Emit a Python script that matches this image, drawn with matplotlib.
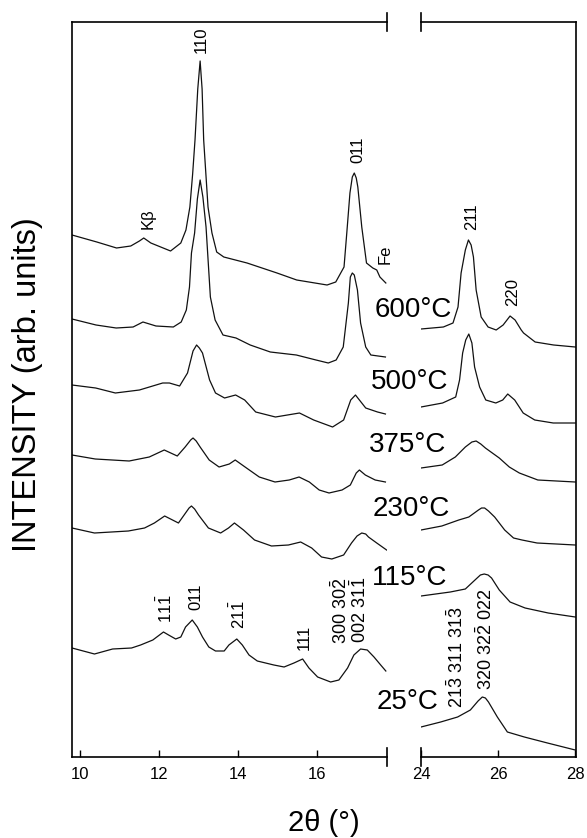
import matplotlib
matplotlib.use('Agg')
import matplotlib.pyplot as plt

plt.rcParams['font.family'] = ['Liberation Sans', 'DejaVu Sans']
plt.rcParams['mathtext.fontset'] = 'custom'
plt.rcParams['mathtext.rm'] = 'Liberation Sans'
plt.rcParams['mathtext.it'] = 'Liberation Sans:italic'
plt.rcParams['mathtext.bf'] = 'Liberation Sans:bold'

temperatures = ['600°C', '500°C', '375°C', '230°C', '115°C', '25°C']

# ---- low-angle segment (2theta 9.79-17.78), stacked intensities (arb. units)
tt_600_low = [9.79, 10.42, 10.92, 11.28, 11.50, 11.61, 11.79, 12.29, 12.55, 12.68, 12.78, 12.85, 12.91, 12.98,
              13.04, 13.09, 13.13, 13.24, 13.34, 13.46, 13.64, 14.23, 14.99, 15.49, 16.26, 16.48, 16.69,
              16.76, 16.84, 16.90, 16.95, 17.00, 17.04, 17.14, 17.26, 17.42, 17.52, 17.60, 17.75]
i_600_low = [524, 517, 511, 513, 518, 521, 516, 508, 516, 529, 552, 585, 619, 670,
             698, 670, 619, 552, 526, 507, 502, 496, 486, 479, 474, 477, 492,
             526, 566, 582, 586, 581, 572, 532, 496, 491, 489, 482, 476]

tt_500_low = [9.79, 10.40, 10.91, 11.34, 11.59, 11.92, 12.36, 12.56, 12.69, 12.77, 12.82, 12.90, 12.97,
              13.04, 13.11, 13.19, 13.30, 13.42, 13.62, 13.95, 14.31, 14.82, 15.48, 15.98, 16.29, 16.49,
              16.67, 16.80, 16.85, 16.90, 16.95, 17.03, 17.11, 17.24, 17.37, 17.74]
i_500_low = [440, 434, 431, 432, 437, 433, 432, 437, 449, 472, 506, 526, 560,
             579, 562, 532, 462, 439, 424, 421, 414, 407, 404, 399, 396, 399,
             412, 456, 482, 486, 484, 469, 436, 412, 404, 402]

tt_375_low = [9.79, 10.39, 10.89, 11.50, 12.09, 12.26, 12.52, 12.72, 12.86, 12.95, 13.02, 13.10, 13.28,
              13.43, 13.66, 13.94, 14.17, 14.45, 14.95, 15.56, 15.92, 16.40, 16.68, 16.86, 16.98, 17.10,
              17.24, 17.54, 17.74]
i_375_low = [374, 371, 366, 369, 376, 376, 373, 386, 408, 414, 411, 406, 379,
             366, 361, 364, 359, 347, 342, 346, 339, 332, 339, 359, 364, 358,
             351, 347, 345]

tt_230_low = [9.79, 10.38, 11.24, 11.75, 12.13, 12.46, 12.66, 12.80, 12.86, 12.94, 13.04, 13.27, 13.52,
              13.78, 13.93, 14.18, 14.54, 14.94, 15.30, 15.55, 15.81, 16.06, 16.31, 16.64, 16.85, 17.00,
              17.08, 17.23, 17.48, 17.74]
i_230_low = [304, 300, 298, 302, 309, 303, 312, 319, 321, 318, 312, 299, 292,
             295, 299, 292, 282, 277, 279, 282, 277, 269, 266, 269, 274, 286,
             289, 284, 279, 277]

tt_115_low = [9.79, 10.36, 11.22, 11.63, 11.88, 12.14, 12.49, 12.67, 12.76, 12.82, 12.90, 13.00, 13.25,
              13.56, 13.76, 13.91, 14.14, 14.42, 14.85, 15.28, 15.59, 15.87, 16.12, 16.38, 16.68, 16.88,
              17.02, 17.14, 17.24, 17.31, 17.52, 17.77]
i_115_low = [231, 226, 228, 231, 236, 243, 236, 246, 251, 253, 250, 244, 231,
             226, 231, 236, 229, 219, 213, 214, 217, 211, 202, 200, 204, 216,
             223, 226, 225, 222, 216, 209]

tt_25_low = [9.79, 10.36, 10.82, 11.30, 11.53, 11.84, 12.11, 12.24, 12.42, 12.55, 12.67, 12.84, 12.97,
             13.10, 13.26, 13.43, 13.65, 13.77, 13.97, 14.11, 14.28, 14.49, 14.91, 15.17, 15.42, 15.64,
             15.80, 16.02, 16.35, 16.56, 16.78, 16.94, 17.11, 17.28, 17.45, 17.62, 17.75]
i_25_low = [111, 105, 110, 111, 114, 119, 127, 124, 120, 122, 132, 139, 132,
            122, 112, 108, 108, 114, 120, 114, 104, 98, 94, 92, 96, 100,
            91, 82, 77, 79, 91, 104, 110, 109, 102, 94, 88]

# ---- high-angle segment (2theta 24-28)
tt_600_high = [24.0, 24.58, 24.83, 24.96, 25.04, 25.15, 25.23, 25.30, 25.36, 25.43, 25.56, 25.74, 25.95,
               26.13, 26.31, 26.44, 26.60, 26.66, 26.96, 27.44, 28.0]
i_600_high = [430, 432, 436, 452, 486, 509, 519, 514, 502, 469, 442, 432, 429,
              434, 443, 439, 429, 426, 417, 414, 412]

tt_500_high = [24.0, 24.56, 24.90, 25.00, 25.08, 25.16, 25.24, 25.32, 25.39, 25.52, 25.68, 25.94, 26.12,
               26.25, 26.43, 26.65, 26.95, 27.43, 28.0]
i_500_high = [352, 356, 362, 379, 406, 419, 425, 416, 392, 372, 359, 356, 359,
              365, 359, 346, 339, 336, 336]

tt_375_high = [24.0, 24.55, 24.89, 25.15, 25.32, 25.43, 25.55, 25.67, 26.03, 26.29, 26.55, 27.03, 28.0]
i_375_high = [291, 294, 302, 312, 317, 318, 315, 311, 301, 292, 286, 279, 277]

tt_230_high = [24.0, 24.54, 24.98, 25.24, 25.49, 25.57, 25.65, 25.75, 25.91, 26.17, 26.40, 26.62, 27.01, 28.0]
i_230_high = [229, 233, 239, 242, 249, 251, 251, 248, 242, 229, 221, 219, 216, 214]

tt_115_high = [24.0, 24.38, 24.76, 25.15, 25.40, 25.54, 25.64, 25.74, 25.83, 26.03, 26.31, 26.70, 27.30, 28.0]
i_115_high = [163, 165, 167, 170, 179, 184, 185, 184, 181, 169, 157, 151, 146, 142]

tt_25_high = [24.0, 24.51, 24.95, 25.28, 25.48, 25.59, 25.67, 25.75, 25.98, 26.24, 26.68, 27.28, 28.0]
i_25_high = [32, 37, 42, 49, 58, 62, 61, 57, 42, 27, 22, 16, 9]

low_x = [tt_600_low, tt_500_low, tt_375_low, tt_230_low, tt_115_low, tt_25_low]
low_y = [i_600_low, i_500_low, i_375_low, i_230_low, i_115_low, i_25_low]
high_x = [tt_600_high, tt_500_high, tt_375_high, tt_230_high, tt_115_high, tt_25_high]
high_y = [i_600_high, i_500_high, i_375_high, i_230_high, i_115_high, i_25_high]

temp_label_x = [23.80, 23.71, 23.65, 23.76, 23.70, 23.65]
temp_label_y = [449, 377, 314, 250, 181, 57]

low_xticks = [10, 12, 14, 16]
high_xticks = [24, 26, 28]

W, H = 587, 838
fig = plt.figure(figsize=(W / 100, H / 100), dpi=100)
y0, hh = 81 / H, 735 / H
ax_l = fig.add_axes([72 / W, y0, 315 / W, hh])
ax_r = fig.add_axes([421 / W, y0, 155 / W, hh])

lc = '#111111'
for xs, ys in zip(low_x, low_y):
    ax_l.plot(xs, ys, color=lc, lw=0.9)
for xs, ys in zip(high_x, high_y):
    ax_r.plot(xs, ys, color=lc, lw=0.9)

ax_l.set_xlim(9.79, 17.78)
ax_r.set_xlim(24.0, 28.02)
for ax in (ax_l, ax_r):
    ax.set_ylim(2, 737)
    ax.set_yticks([])
    ax.tick_params(axis='x', direction='in', length=5, width=1.0, labelsize=12, pad=7, colors='k')
    for s in ax.spines.values():
        s.set_linewidth(1.2)
ax_l.set_xticks(low_xticks)
ax_r.set_xticks(high_xticks)
ax_l.spines['right'].set_visible(False)
ax_r.spines['left'].set_visible(False)

# break markers
d = 9 / 735
for ax, xpos in ((ax_l, 1), (ax_r, 0)):
    ax.plot([xpos, xpos], [-d, d], transform=ax.transAxes, color='k', lw=1.2, clip_on=False)
    ax.plot([xpos, xpos], [1 - d, 1 + d], transform=ax.transAxes, color='k', lw=1.2, clip_on=False)

# temperature labels
for t, x, y in zip(temperatures, temp_label_x, temp_label_y):
    ax_r.text(x, y, t, fontsize=20, ha='center', va='center', clip_on=False)

# reflection labels
kw = dict(rotation=90, ha='center', va='center', fontsize=12)
ax_l.text(13.08, 719, '110', **kw)
ax_l.text(11.71, 540, 'Kβ', **kw)
ax_l.text(17.03, 609, '011', **kw)
ax_l.text(17.72, 505, 'Fe', **kw)
ax_r.text(25.32, 542, '211', **kw)
ax_r.text(26.37, 467, '220', **kw)

ax_l.text(12.17, 150, r'$\mathrm{11\bar{1}}$', **kw)
ax_l.text(12.93, 162, '011', **kw)
ax_l.text(14.02, 144, r'$\mathrm{21\bar{1}}$', **kw)
ax_l.text(15.67, 122, '111', **kw)
kw2 = dict(rotation=90, ha='center', va='center', fontsize=13)
ax_l.text(16.61, 148, r'$\mathrm{300\ 30\bar{2}}$', **kw2)
ax_l.text(17.08, 149, r'$\mathrm{002\ 31\bar{1}}$', **kw2)
ax_r.text(24.92, 102, r'$\mathrm{21\bar{3}\ 311\ 31\bar{3}}$', clip_on=False, **kw2)
ax_r.text(25.67, 120, r'$\mathrm{320\ 32\bar{2}\ 022}$', **kw2)

fig.text(28 / W, 1 - 385 / H, 'INTENSITY (arb. units)', rotation=90, ha='center', va='center', fontsize=23.5)
fig.text(323.5 / W, 1 - 823 / H, '2θ (°)', ha='center', va='center', fontsize=21)

fig.savefig('out.png', dpi=100)
